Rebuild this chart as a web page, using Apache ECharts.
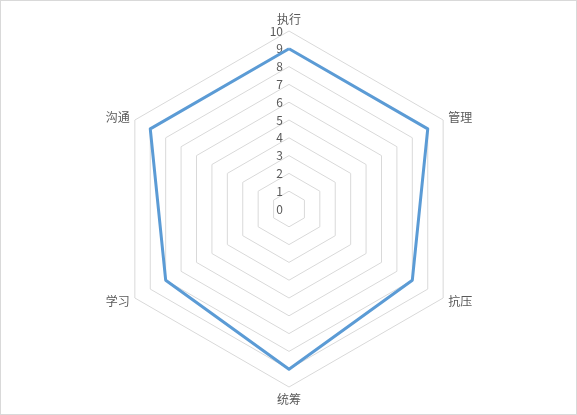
<!DOCTYPE html>
<html>
<head>
<meta charset="utf-8">
<style>
html, body { margin: 0; padding: 0; background: #fff; }
#main { width: 575px; height: 413px; border: 1px solid #d9d9d9; }
</style>
</head>
<body>
<div id="main"></div>
<script src="https://cdn.jsdelivr.net/npm/echarts@6/dist/echarts.min.js"></script>
<script>
// radar goes counter-clockwise, so list is top then leftwards
var indicators = ['执行', '沟通', '学习', '统筹', '抗压', '管理'];
var scores = [9, 9, 8, 9, 8, 9];
var maxScore = 10;
var tickStep = 1;

var myChart = echarts.init(document.getElementById('main'));
var option = {
    animation: false,
    textStyle: { fontFamily: 'Noto Sans CJK SC, sans-serif' },
    radar: {
        center: [288, 208],
        radius: 178,
        startAngle: 90,
        splitNumber: maxScore / tickStep,
        shape: 'polygon',
        indicator: indicators.map(function (n) { return { name: n, max: maxScore, min: 0 }; }),
        axisName: { color: '#595959', fontSize: 12 },
        nameGap: 6,
        axisLine: { show: false },
        axisTick: { show: false },
        axisLabel: { show: false },
        splitArea: { show: false },
        splitLine: { lineStyle: { color: '#d9d9d9', width: 1 } }
    },
    polar: { center: [288, 208], radius: 178 },
    angleAxis: {
        startAngle: 90,
        show: false,
        min: 0,
        max: 360
    },
    radiusAxis: {
        min: 0,
        max: maxScore,
        interval: tickStep,
        axisLine: { show: false },
        axisTick: { show: false },
        splitLine: { show: false },
        axisLabel: { color: '#595959', fontSize: 12, margin: 6 }
    },
    series: [{
        type: 'radar',
        symbol: 'none',
        lineStyle: { color: '#5b9bd5', width: 3 },
        data: [{ value: scores, name: '能力' }]
    }]
};
myChart.setOption(option);
</script>
</body>
</html>
